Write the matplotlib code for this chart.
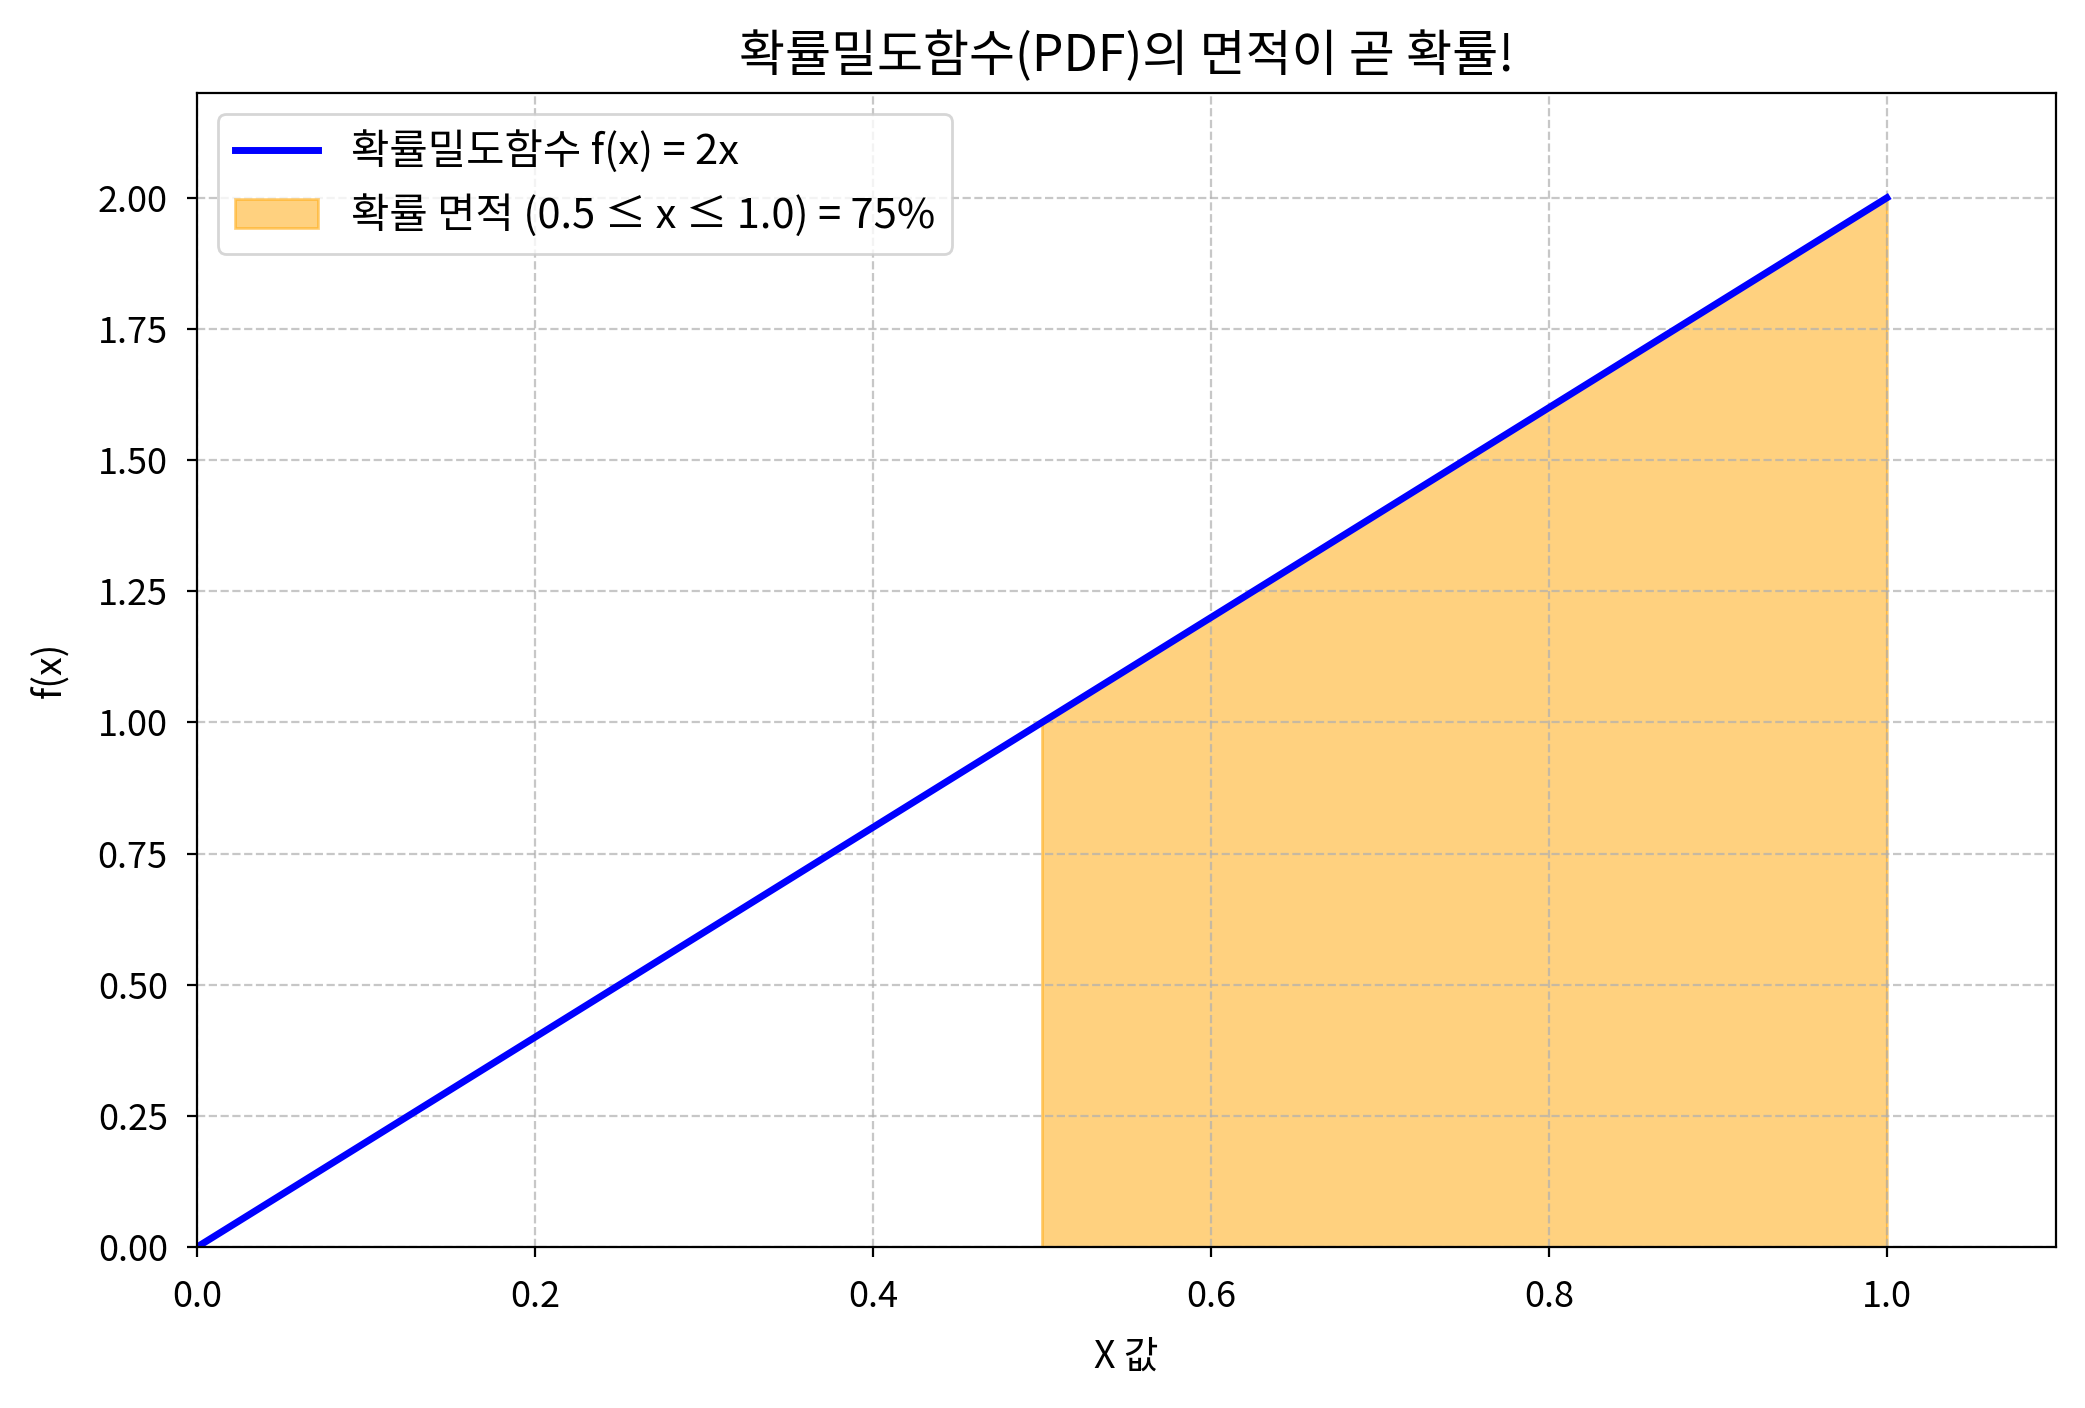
import numpy as np
import matplotlib
matplotlib.use("Agg")
import matplotlib.pyplot as plt

plt.rcParams['font.family'] = ['Noto Sans CJK KR', 'DejaVu Sans']
plt.rcParams['axes.unicode_minus'] = False

x_vals = [0.0, 1.0]
y_vals = [0.0, 2.0]
fill_x = [0.5, 1.0]
fill_y = [1.0, 2.0]
xticks = [0.0, 0.2, 0.4, 0.6, 0.8, 1.0]
yticks = [0.0, 0.25, 0.5, 0.75, 1.0, 1.25, 1.5, 1.75, 2.0]

fig = plt.figure(figsize=(10.425, 7.04), dpi=200)
ax = fig.add_axes([0.0945, 0.1143, 0.8915, 0.8197])

ax.plot(x_vals, y_vals, color='blue', linewidth=2.5, label='확률밀도함수 f(x) = 2x')
ax.fill_between(fill_x, fill_y, 0, color='orange', alpha=0.5,
                label='확률 면적 (0.5 ≤ x ≤ 1.0) = 75%')

ax.set_xlim(0, 1.1)
ax.set_ylim(0, 2.2)
ax.set_xticks(xticks)
ax.set_yticks(yticks)
ax.set_xticklabels([f'{v:.1f}' for v in xticks])
ax.set_yticklabels([f'{v:.2f}' for v in yticks])
ax.tick_params(labelsize=13)
ax.tick_params(axis='x', pad=8)
ax.tick_params(axis='y', pad=7)
ax.grid(True, linestyle='--', alpha=0.7)
ax.set_xlabel('X 값', fontsize=13.5, labelpad=8)
ax.set_ylabel('f(x)', fontsize=13.5, labelpad=10)
ax.set_title('확률밀도함수(PDF)의 면적이 곧 확률!', fontsize=18, pad=8)
ax.legend(loc='upper left', fontsize=15)

fig.savefig('out.png', dpi=200)
